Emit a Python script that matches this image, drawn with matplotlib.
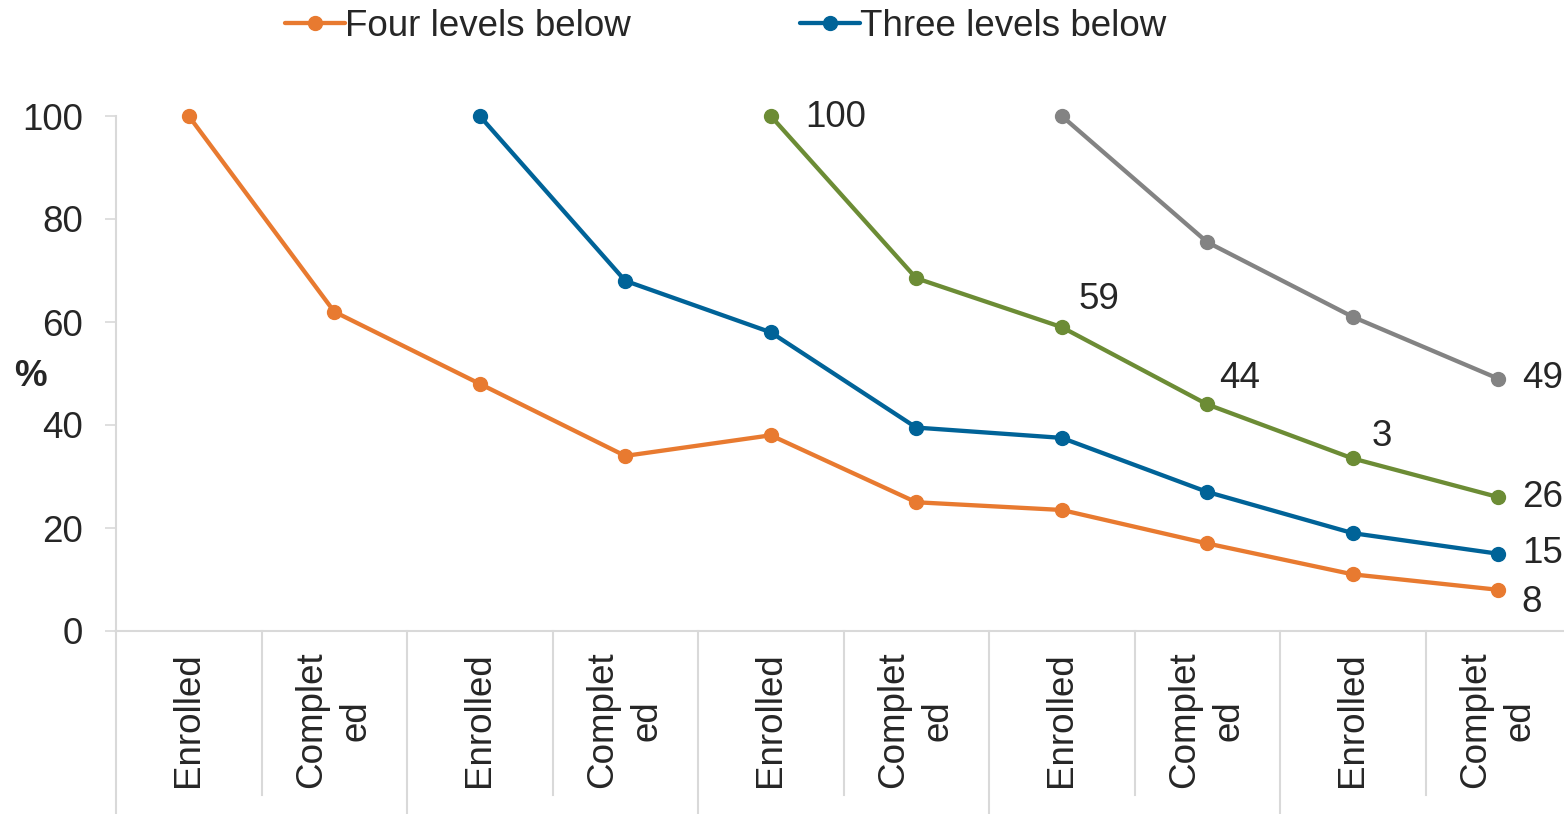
import numpy as np
import matplotlib.pyplot as plt
from matplotlib.lines import Line2D

plt.rcParams['font.family'] = ['Liberation Sans', 'DejaVu Sans']

categories = ["Enrolled", "Complet\ned"] * 5
nan = np.nan
four_below = [100, 62, 48, 34, 38, 25, 23.5, 17, 11, 8]
three_below = [nan, nan, 100, 68, 58, 39.5, 37.5, 27, 19, 15]
two_below = [nan, nan, nan, nan, 100, 68.5, 59, 44, 33.5, 26]
one_below = [nan, nan, nan, nan, nan, nan, 100, 75.5, 61, 49]

orange = '#E87A30'
blue = '#006398'
green = '#6C8C35'
gray = '#838383'
txt = '#262626'
axcol = '#D9D9D9'
fs = 26.5

W, H = 1564, 814
fig = plt.figure(figsize=(W / 100, H / 100), dpi=100)
ax = fig.add_axes([116 / W, (H - 631) / H, 1455 / W, 515 / H])

x = np.arange(len(categories))
style = dict(lw=3.1, marker='o', ms=10, solid_capstyle='round')
ax.plot(x, one_below, color=gray, clip_on=False, **style)
ax.plot(x, two_below, color=green, clip_on=False, **style)
ax.plot(x, three_below, color=blue, clip_on=False, **style)
ax.plot(x, four_below, color=orange, clip_on=False, **style)

ax.set_xlim(-0.5, len(categories) - 0.5)
ax.set_ylim(0, 100)
ax.set_yticks([0, 20, 40, 60, 80, 100])
ax.tick_params(axis='y', labelsize=fs, labelcolor=txt, color=axcol, length=8, width=1.2, pad=16)
ax.set_xticks(x)
ax.set_xticklabels(categories, rotation=90, va='top', ha='center', multialignment='center',
                   fontsize=fs, color=txt, linespacing=1.35)
ax.tick_params(axis='x', length=0, pad=15)

for s in ['top', 'right']:
    ax.spines[s].set_visible(False)
for s in ['left', 'bottom']:
    ax.spines[s].set_color(axcol)
    ax.spines[s].set_linewidth(1.5)

# category separators below the axis
for k in range(len(categories) + 1):
    xb = k - 0.5
    y_end = -0.4 if k % 2 == 0 else -(795 - 631) / 515
    ax.add_line(Line2D([xb, xb], [0, y_end], transform=ax.get_xaxis_transform(),
                       color=axcol, lw=1.5, clip_on=False))

ax.text(-0.059, 0.495, '%', transform=ax.transAxes, fontsize=fs, fontweight='bold',
        color=txt, ha='center', va='center')

# data labels (offsets in points)
lab = dict(fontsize=fs, color=txt, textcoords='offset points', annotation_clip=False)
ax.annotate('100', (4, two_below[4]), xytext=(25, -1), ha='left', va='center', **lab)
ax.annotate('59', (6, two_below[6]), xytext=(27, 20), ha='center', va='center', **lab)
ax.annotate('44', (7, two_below[7]), xytext=(23, 19), ha='center', va='center', **lab)
ax.annotate('3', (8, two_below[8]), xytext=(21, 16), ha='center', va='center', **lab)
ax.annotate('26', (9, two_below[9]), xytext=(17, 0), ha='left', va='center', **lab)
ax.annotate('49', (9, one_below[9]), xytext=(17, 0), ha='left', va='center', **lab)
ax.annotate('15', (9, three_below[9]), xytext=(17, 0), ha='left', va='center', **lab)
ax.annotate('8', (9, four_below[9]), xytext=(17, -9), ha='left', va='center', **lab)

handles = [Line2D([], [], color=orange, **style), Line2D([], [], color=blue, **style)]
leg = fig.legend(handles, ['Four levels below', 'Three levels below'], ncol=2,
                 loc='center left', bbox_to_anchor=(285 / W, 1 - 26 / H), frameon=False,
                 fontsize=fs, handlelength=1.63, handletextpad=0.0, columnspacing=4.6,
                 borderpad=0, borderaxespad=0)
for t in leg.get_texts():
    t.set_color(txt)

fig.savefig('out.png', dpi=100)
